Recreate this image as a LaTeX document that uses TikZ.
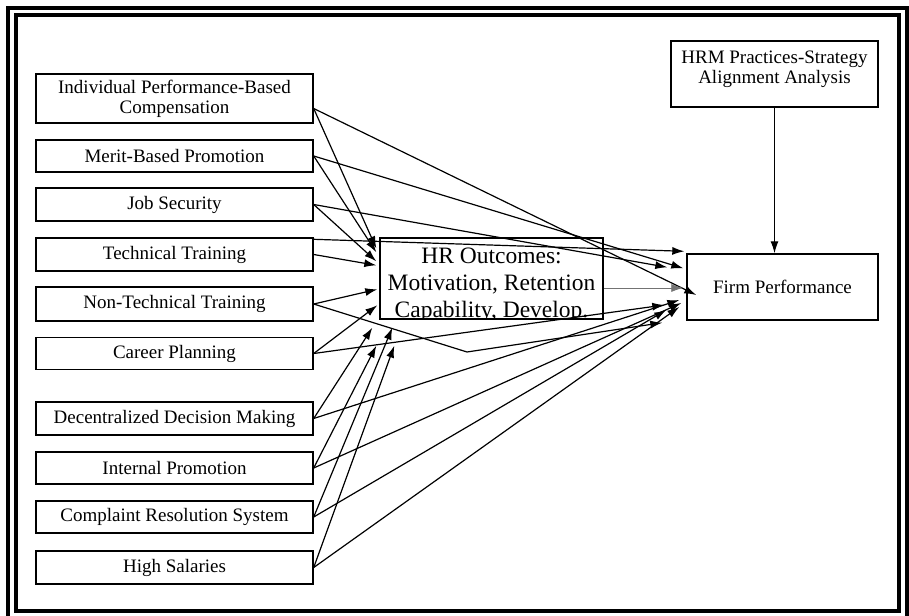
\documentclass[tikz,border=0pt]{standalone}
\usepackage{fontspec}
\setmainfont{Liberation Serif}
\usetikzlibrary{arrows.meta}
\begin{document}
\begin{tikzpicture}[x=1pt,y=-1pt,
  practice/.style={draw, line width=1.4pt, inner sep=0pt, minimum width=277pt,
    minimum height=33pt, align=center, font=\fontsize{19}{20}\selectfont},
  mainbox/.style={draw, line width=1.4pt, inner sep=0pt, align=center,
    font=\fontsize{19}{20}\selectfont},
  conn/.style={line width=1.2pt, -{Latex[length=12pt,width=8pt]}},
  faint/.style={line width=0.8pt, draw=black!55, -{Latex[length=12pt,width=8pt]}},
]
\useasboundingbox (0,0) rectangle (909,615);

% double frame
\begin{scope}
  \clip (0,0) rectangle (909,615);
  \draw[line width=4.5pt] (8,8) rectangle (907,619);
  \draw[line width=4pt] (16,15) rectangle (899,610.5);
\end{scope}

% HRM practices
\node[practice, minimum height=49pt] (ipbc) at (174.5,98.5) {Individual Performance-Based\\Compensation};
\node[practice, minimum height=32pt] (merit) at (174.5,156) {Merit-Based Promotion};
\node[practice] (js) at (174.5,204.5) {Job Security};
\node[practice] (tt) at (174.5,254.5) {Technical Training};
\node[practice, minimum height=34pt] (nt) at (174.5,304) {Non-Technical Training};
\node[practice, minimum height=32pt] (cp) at (174.5,353.5) {Career Planning};
\node[practice] (dd) at (174.5,418.5) {Decentralized Decision Making};
\node[practice, minimum height=32pt] (ip) at (174.5,468) {Internal Promotion};
\node[practice, minimum height=32pt] (cr) at (174.5,517) {Complaint Resolution System};
\node[practice] (hs) at (174.5,567.5) {High Salaries};

% HR outcomes (text clipped by its frame)
\node[draw, line width=1.4pt, minimum width=223pt, minimum height=81pt, inner sep=0pt] (hr) at (491.5,278.5) {};
\begin{scope}
  \clip (hr.south west) rectangle (hr.north east);
  \node[align=center, inner sep=0pt, font=\fontsize{23.5}{27}\selectfont] (hrtext) at (491.5,285) {HR Outcomes:\\Motivation, Retention\\Capability, Develop.};
\end{scope}

% firm performance and alignment analysis
\node[mainbox, minimum width=191pt, minimum height=66pt] (firm) at (782.5,287) {Firm Performance};
\node[mainbox, minimum width=207pt, minimum height=66pt, text depth=14pt] (hrm) at (774.5,74) {HRM Practices-Strategy\\Alignment Analysis};

\draw[conn] (hrm.south) -- (hrm.south |- firm.north);

% practices -> HR outcomes
\draw[conn] ([yshift=-10pt]ipbc.east) -- ([xshift=-3pt,yshift=-11pt]hr.north west);
\draw[conn] (merit.east) -- ([xshift=-3pt,yshift=-15pt]hr.north west);
\draw[conn] (js.east) -- ([xshift=-3pt,yshift=-24pt]hr.north west);
\draw[conn] (tt.east) -- ([xshift=-3pt,yshift=-28pt]hr.north west);
\draw[conn] (nt.east) -- ([xshift=-2pt,yshift=-52pt]hr.north west);
\draw[conn] (cp.east) -- ([xshift=-2pt,yshift=-68pt]hr.north west);
\draw[conn] (dd.east) -- ([xshift=-7pt,yshift=-8pt]hr.south west);
\draw[conn] (ip.east) -- ([xshift=-3pt,yshift=-26pt]hr.south west);
\draw[conn] (cr.east) -- ([xshift=13pt,yshift=-8pt]hr.south west);
\draw[conn] (hs.east) -- ([xshift=15pt,yshift=-26pt]hr.south west);

% practices -> firm performance
\coordinate (ntbend) at (467,352);
\draw[conn] ([yshift=-10pt]ipbc.east) -- ([xshift=10pt,yshift=-8pt]firm.west);
\draw[conn] (merit.east) -- ([xshift=-3pt,yshift=-15pt]firm.north west);
\draw[conn] (js.east) -- ([xshift=-19pt,yshift=-14pt]firm.north west);
\draw[conn] ([yshift=-2pt]tt.north east) -- ([xshift=-2pt,yshift=2pt]firm.north west);
\draw[conn] (nt.east) -- (ntbend) -- ([xshift=-24pt,yshift=-2pt]firm.south west);
\draw[conn] (cp.east) -- ([xshift=-22pt,yshift=-18pt]firm.west);
\draw[conn] (dd.east) -- ([xshift=-7pt,yshift=-13pt]firm.west);
\draw[conn] (ip.east) -- ([xshift=-5pt,yshift=-16pt]firm.west);
\draw[conn] (cr.east) -- ([xshift=-20pt,yshift=-23pt]firm.west);
\draw[conn] (hs.east) -- ([xshift=-7pt,yshift=-20pt]firm.west);

% HR outcomes -> firm performance
\draw[faint] ([yshift=-9.5pt]hr.east) -- ([xshift=-3pt,yshift=-1pt]firm.west);
\end{tikzpicture}
\end{document}
